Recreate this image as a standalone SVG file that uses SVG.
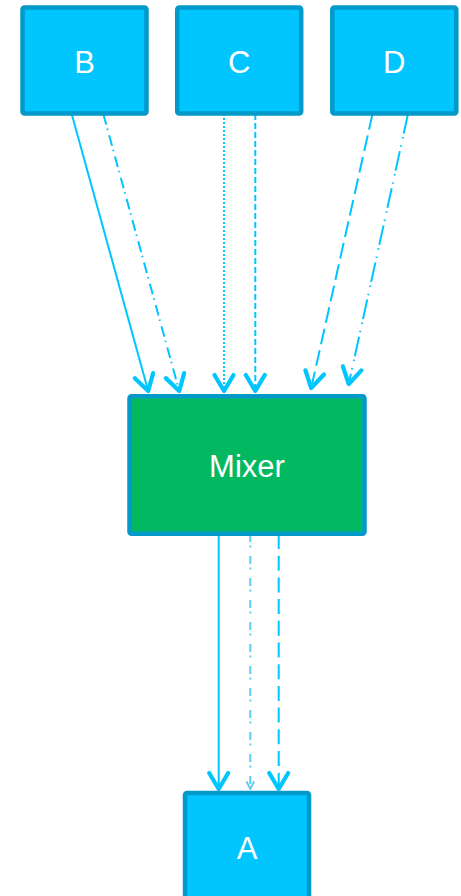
<svg xmlns="http://www.w3.org/2000/svg" width="461" height="896" viewBox="0 0 461 896">
<style>
.node rect{fill:#00c5ff;stroke:#0399c9;stroke-width:4.5}
.mix rect{fill:#02b962;stroke:#0399c9;stroke-width:4.5}
text{font-family:"Liberation Sans",Arial,sans-serif;font-size:31px;fill:#ffffff;text-anchor:middle}
.e{fill:none;stroke:#00c5ff;stroke-width:2}
</style>
<defs>
<marker id="ah" markerUnits="userSpaceOnUse" viewBox="-25 -15 30 30" markerWidth="30" markerHeight="30" refX="0" refY="0" orient="auto">
<path d="M-17,-9.5 L-1,0 L-17,9.5" fill="none" stroke="#00c5ff" stroke-width="4.2" stroke-linecap="round" stroke-linejoin="round"/>
</marker>
<marker id="ahs" markerUnits="userSpaceOnUse" viewBox="-10 -6 12 12" markerWidth="12" markerHeight="12" refX="0" refY="0" orient="auto">
<path d="M-7,-3.5 L0,0 L-7,3.5" fill="none" stroke="#5ccbf0" stroke-width="1.8" stroke-linecap="round" stroke-linejoin="round"/>
</marker>
</defs>
<g id="connectors">
<path class="e" d="M71.7,114 L148.5,392" marker-end="url(#ah)"/>
<path class="e" d="M103.3,114 L179.5,392" stroke-dasharray="11,4,1.5,5.5" marker-end="url(#ah)"/>
<path class="e" d="M224,114 L224,392" stroke-dasharray="2,2" marker-end="url(#ah)"/>
<path class="e" d="M255.3,114 L255.3,392" stroke-dasharray="6,3" marker-end="url(#ah)"/>
<path class="e" d="M372.5,114 L311,389" stroke-dasharray="16,6" marker-end="url(#ah)"/>
<path class="e" d="M408,114 L348.5,385" stroke-dasharray="20,3.5,1.5,7,1.5,4.5" marker-end="url(#ah)"/>
<path class="e" d="M218.7,534 L218.7,790" marker-end="url(#ah)"/>
<path class="e" d="M250.3,534 L250.3,789" style="stroke:#5ccbf0;stroke-width:2" stroke-dasharray="8,3.5,2,8.5" marker-end="url(#ahs)"/>
<path class="e" d="M278.7,534 L278.7,790" stroke-dasharray="15,6.7" marker-end="url(#ah)"/>
</g>
<g id="B" class="node"><rect x="22.5" y="7.5" width="124" height="106" rx="2"/><text x="84.6" y="72.5">B</text></g>
<g id="C" class="node"><rect x="177.2" y="7.5" width="124" height="106" rx="2"/><text x="239.2" y="72.5">C</text></g>
<g id="D" class="node"><rect x="332.3" y="7.5" width="124" height="106" rx="2"/><text x="394.3" y="72.5">D</text></g>
<g id="Mixer" class="mix"><rect x="129.5" y="396.2" width="235" height="137.5" rx="2"/><text x="247" y="477">Mixer</text></g>
<g id="A" class="node"><rect x="185" y="793" width="124" height="106" rx="2"/><text x="247" y="858.5">A</text></g>
</svg>
